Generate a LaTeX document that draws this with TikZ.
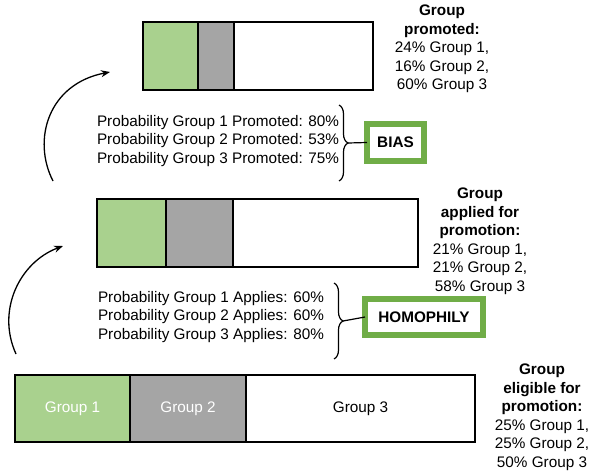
\documentclass[tikz,border=0pt]{standalone}
\usepackage{fontspec}
\setmainfont{Liberation Sans}
\usetikzlibrary{arrows.meta,decorations.pathreplacing}
\definecolor{gone}{HTML}{A9D18E}
\definecolor{gtwo}{HTML}{A5A5A5}
\definecolor{frame}{HTML}{70AD47}
\begin{document}
\begin{tikzpicture}[x=1pt,y=1pt,
  every node/.style={inner sep=0pt,outer sep=0pt,font=\fontsize{15.3}{18.5}\selectfont},
  seg/.style={draw=black,line width=1.4pt,minimum height=68pt},
  hdr/.style={align=center},
  prob/.style={align=left,anchor=west},
  tag/.style={draw=frame,line width=6pt,font=\fontsize{15.3}{18.5}\selectfont\bfseries},
  bracebr/.style={decorate,decoration={brace,amplitude=9pt},line width=1.2pt},
  flow/.style={line width=1.3pt,-{Stealth[length=9pt,width=7pt]}}]
\useasboundingbox (0,0) rectangle (597,-474);
% top bar
\node[seg,fill=gone,minimum width=55pt] (t1) at (170.5,-56) {};
\node[seg,fill=gtwo,minimum width=36pt] (t2) at (216,-56) {};
\node[seg,fill=white,minimum width=139pt] (t3) at (303.5,-56) {};
% middle bar
\node[seg,fill=gone,minimum width=69pt] (m1) at (131.5,-233) {};
\node[seg,fill=gtwo,minimum width=67pt] (m2) at (199.5,-233) {};
\node[seg,fill=white,minimum width=185pt] (m3) at (325.5,-233) {};
% bottom bar
\node[seg,fill=gone,minimum width=115pt,minimum height=67pt,text=white] (b1) at (72.5,-408.5) {Group 1};
\node[seg,fill=gtwo,minimum width=116pt,minimum height=67pt,text=white] (b2) at (188,-408.5) {Group 2};
\node[seg,fill=white,minimum width=229pt,minimum height=67pt] (b3) at (360.5,-408.5) {Group 3};
% headers
\node[hdr] (hp) at (442,-49) {\textbf{Group}\\\textbf{promoted:}\\24\% Group 1,\\16\% Group 2,\\60\% Group 3};
\node[hdr] (ha) at (480,-241) {\textbf{Group}\\\textbf{applied for}\\\textbf{promotion:}\\21\% Group 1,\\21\% Group 2,\\58\% Group 3};
\node[hdr] (he) at (542,-417) {\textbf{Group}\\\textbf{eligible for}\\\textbf{promotion:}\\25\% Group 1,\\25\% Group 2,\\50\% Group 3};
% probabilities
\node[prob] (pp) at (97,-141) {Probability Group 1 Promoted: 80\%\\Probability Group 2 Promoted: 53\%\\Probability Group 3 Promoted: 75\%};
\node[prob] (pa) at (98,-317) {Probability Group 1 Applies: 60\%\\Probability Group 2 Applies: 60\%\\Probability Group 3 Applies: 80\%};
% tags
\node[tag,minimum width=57pt,minimum height=37pt] (bias) at (395.5,-142.5) {BIAS};
\node[tag,minimum width=118pt,minimum height=36pt] (homo) at (424,-317) {HOMOPHILY};
% braces
\coordinate (bt) at (339,-105);
\coordinate (bb) at (339,-181);
\draw[bracebr] (bt) -- (bb);
\coordinate (btip) at (348,-143);
\draw[line width=1.2pt] (btip) -- (bias.west);
\coordinate (ht) at (334,-283);
\coordinate (hb) at (334,-359);
\draw[bracebr] (ht) -- (hb);
\coordinate (htip) at (343,-321);
\draw[line width=1.2pt] (htip) -- (homo.west);
% arrows
\coordinate (a1s) at (53,-181);
\coordinate (a1e) at (110,-72);
\draw[flow] (a1s) .. controls (32,-140) and (48,-84) .. (a1e);
\coordinate (a2s) at (16,-354);
\coordinate (a2e) at (63,-246);
\draw[flow] (a2s) .. controls (-4,-310) and (20,-262) .. (a2e);
\end{tikzpicture}
\end{document}
